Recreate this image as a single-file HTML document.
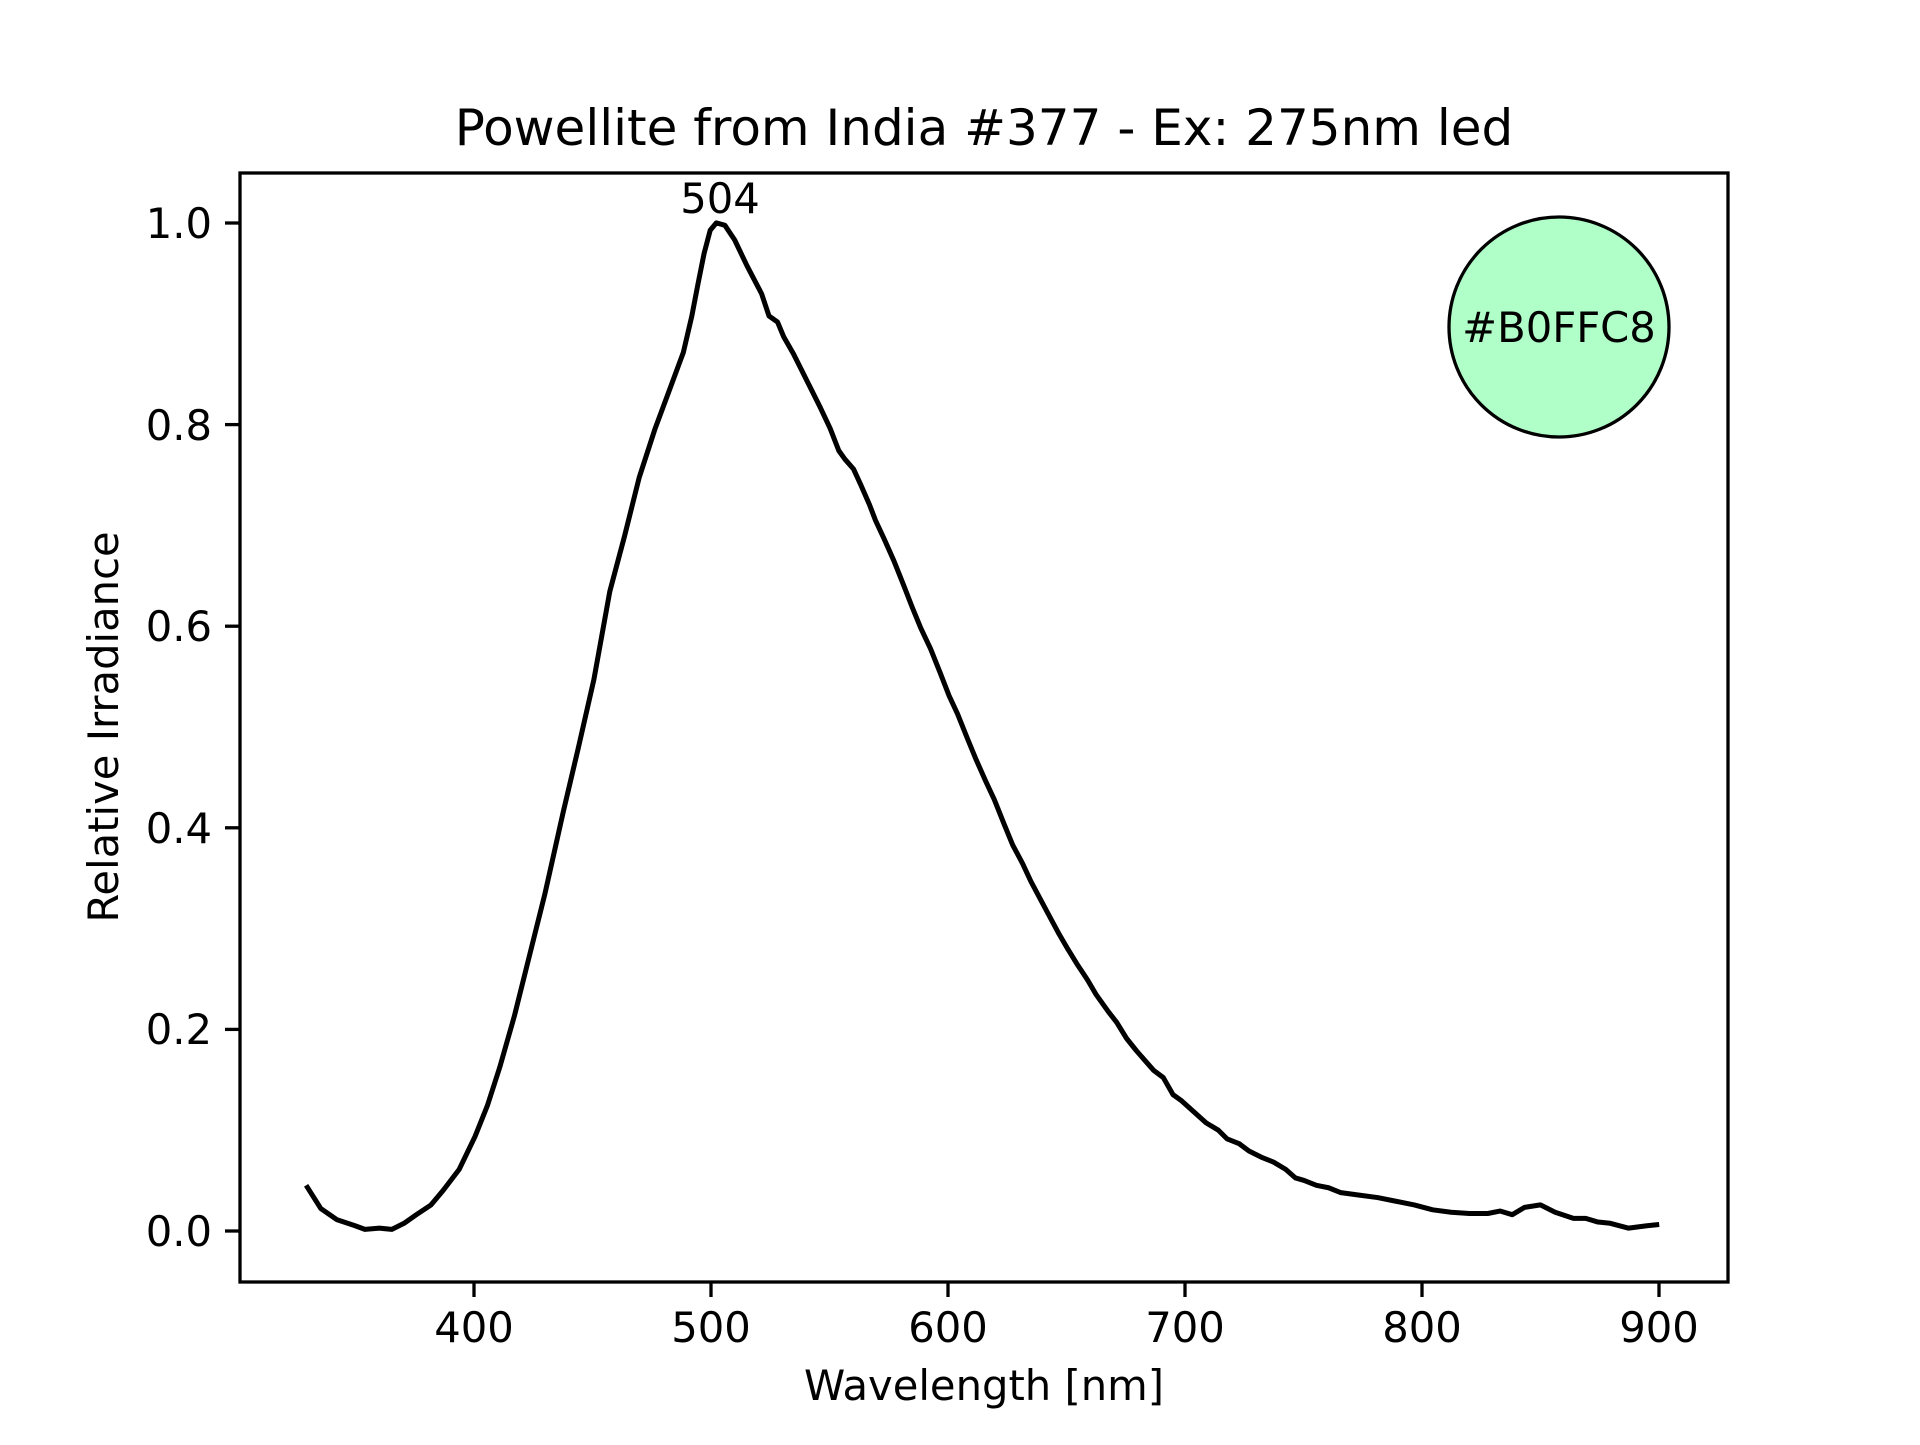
<!DOCTYPE html>
<html><head><meta charset="utf-8"><style>html,body{margin:0;padding:0;background:#fff}</style></head>
<body>
<svg width="1920" height="1440" viewBox="0 0 1920 1440" xmlns="http://www.w3.org/2000/svg" font-family="'DejaVu Sans','Liberation Sans',sans-serif">
<rect width="1920" height="1440" fill="#fff"/>
<g transform="scale(1.2245)">
<polyline fill="none" stroke="#000" stroke-width="4.1" stroke-linejoin="round" stroke-linecap="butt" points="250,968 262,987 275,996 290,1001 298,1004 310,1003 320,1004 330,999 340,992 352,984 362,972 375,955 388,928 398,903 408,872 420,830 432,782 445,730 460,663 472,612 485,555 498,483 510,438 522,390 535,350 548,315 558,288 565,258 570,232 575,207 580,188 585,182 592,184 600,196 610,217 622,240 628,258 635,263 640,275 648,289 655,303 662,317 670,333 678,350 685,368 690,375 697,383 703,396 710,412 715,425 722,440 730,458 738,478 745,496 752,513 760,530 768,550 775,568 782,583 790,603 797,620 805,638 812,653 820,673 827,690 835,705 842,720 850,735 858,750 865,763 872,775 880,788 888,800 895,812 905,826 912,835 920,848 928,858 935,866 942,874 950,880 958,894 965,899 975,908 985,917 995,923 1002,930 1012,934 1020,940 1030,945 1040,949 1050,955 1058,962 1065,964 1075,968 1085,970 1095,974 1110,976 1125,978 1140,981 1155,984 1170,988 1185,990 1200,991 1215,991 1225,989 1235,992 1245,986 1258,984 1270,990 1285,995 1295,995 1305,998 1315,999 1330,1003 1345,1001 1355,1000"/>
</g>
<rect x="240" y="173" width="1488" height="1109" fill="none" stroke="#000" stroke-width="3.3"/>
<circle cx="1559" cy="327" r="110" fill="#B0FFC8" stroke="#000" stroke-width="3.3"/>
<text x="1559" y="342" font-size="41.7" text-anchor="middle">#B0FFC8</text>
<text x="720" y="213" font-size="41.7" text-anchor="middle">504</text>
<g stroke="#000" stroke-width="3.3">
<line x1="474" y1="1282" x2="474" y2="1297"/><line x1="711" y1="1282" x2="711" y2="1297"/><line x1="948" y1="1282" x2="948" y2="1297"/><line x1="1185" y1="1282" x2="1185" y2="1297"/><line x1="1422" y1="1282" x2="1422" y2="1297"/><line x1="1659" y1="1282" x2="1659" y2="1297"/>
<line x1="225" y1="1231" x2="240" y2="1231"/><line x1="225" y1="1029.4" x2="240" y2="1029.4"/><line x1="225" y1="827.8" x2="240" y2="827.8"/><line x1="225" y1="626.2" x2="240" y2="626.2"/><line x1="225" y1="424.6" x2="240" y2="424.6"/><line x1="225" y1="223" x2="240" y2="223"/>
</g>
<g font-size="41.7" text-anchor="middle">
<text x="474" y="1342">400</text><text x="711" y="1342">500</text><text x="948" y="1342">600</text><text x="1185" y="1342">700</text><text x="1422" y="1342">800</text><text x="1659" y="1342">900</text>
</g>
<g font-size="41.7" text-anchor="end">
<text x="212" y="1246">0.0</text><text x="212" y="1044">0.2</text><text x="212" y="843">0.4</text><text x="212" y="641">0.6</text><text x="212" y="440">0.8</text><text x="212" y="238">1.0</text>
</g>
<text x="984" y="1400" font-size="41.7" text-anchor="middle">Wavelength [nm]</text>
<text transform="translate(118,727) rotate(-90)" font-size="41.7" text-anchor="middle">Relative Irradiance</text>
<text x="984" y="145" font-size="50" text-anchor="middle">Powellite from India #377 - Ex: 275nm led</text>
</svg>
</body></html>
